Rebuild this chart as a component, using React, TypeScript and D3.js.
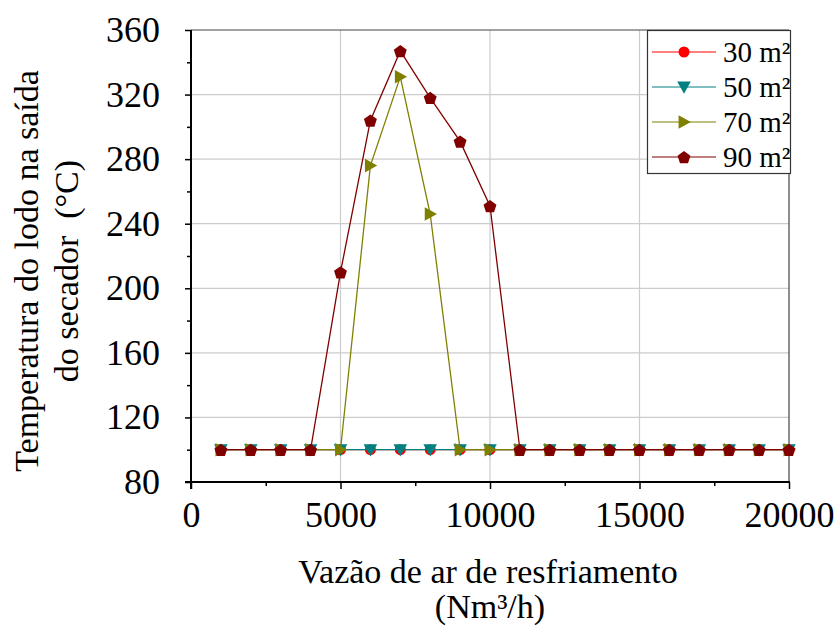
import React, { useEffect, useRef } from "react";
import * as d3 from "d3";

const WIDTH = 839;
const HEIGHT = 627;
const MARGIN = { top: 30, right: 50, bottom: 145, left: 191 };

// air flow (Nm³/h)
const flows = [1000, 2000, 3000, 4000, 5000, 6000, 7000, 8000, 9000, 10000,
  11000, 12000, 13000, 14000, 15000, 16000, 17000, 18000, 19000, 20000];

// sludge temperature at dryer outlet (°C)
const temp30 = [100, 100, 100, 100, 100, 100, 100, 100, 100, 100, 100, 100, 100, 100, 100, 100, 100, 100, 100, 100];
const temp50 = [100, 100, 100, 100, 100, 100, 100, 100, 100, 100, 100, 100, 100, 100, 100, 100, 100, 100, 100, 100];
const temp70 = [100, 100, 100, 100, 100, 276, 331, 246, 100, 100, 100, 100, 100, 100, 100, 100, 100, 100, 100, 100];
const temp90 = [100, 100, 100, 100, 210, 304, 347, 318, 291, 251, 100, 100, 100, 100, 100, 100, 100, 100, 100, 100];

const seriesNames = ["30 m²", "50 m²", "70 m²", "90 m²"];
const xTicks = [0, 5000, 10000, 15000, 20000];
const yTicks = [80, 120, 160, 200, 240, 280, 320, 360];

const series = [
  { name: seriesNames[0], values: temp30, color: "#ff0000", line: "#ff0000", marker: "circle" },
  { name: seriesNames[1], values: temp50, color: "#008080", line: "#008080", marker: "triDown" },
  { name: seriesNames[2], values: temp70, color: "#808000", line: "#808000", marker: "triRight" },
  { name: seriesNames[3], values: temp90, color: "#800000", line: "#800000", marker: "pentagon" },
];

const FONT = "'Liberation Serif', 'Times New Roman', serif";

const markerPath = (kind: string, s: number) => {
  if (kind === "triDown") return `M${-s},${-s * 0.8}L${s},${-s * 0.8}L0,${s}Z`;
  if (kind === "triRight") return `M${-s * 0.8},${-s}L${s},0L${-s * 0.8},${s}Z`;
  if (kind === "pentagon") {
    const pts = d3.range(5).map((i) => {
      const a = -Math.PI / 2 + (i * 2 * Math.PI) / 5;
      return [Math.cos(a) * s, Math.sin(a) * s + 0.8];
    });
    return "M" + pts.map((p) => p.join(",")).join("L") + "Z";
  }
  return "";
};

const Marker = ({ kind, x, y, color }: { kind: string; x: number; y: number; color: string }) =>
  kind === "circle" ? (
    <circle cx={x} cy={y} r={5.5} fill={color} />
  ) : (
    <path d={markerPath(kind, 6.8)} transform={`translate(${x},${y})`} fill={color} />
  );

export default function App() {
  const axesRef = useRef<SVGGElement>(null);
  const x0 = MARGIN.left;
  const x1 = WIDTH - MARGIN.right;
  const y0 = HEIGHT - MARGIN.bottom;
  const y1 = MARGIN.top;

  const xScale = d3.scaleLinear().domain([0, 20000]).range([x0, x1]);
  const yScale = d3.scaleLinear().domain([80, 360]).range([y0, y1]);

  useEffect(() => {
    const g = d3.select(axesRef.current);
    g.selectAll("*").remove();

    // minor ticks
    g.append("g")
      .attr("transform", `translate(0,${y0})`)
      .call(d3.axisBottom(xScale).tickValues([2500, 7500, 12500, 17500]).tickSize(4).tickFormat(() => ""))
      .call((s) => s.select(".domain").remove());
    g.append("g")
      .attr("transform", `translate(${x0},0)`)
      .call(d3.axisLeft(yScale).tickValues(d3.range(100, 360, 40)).tickSize(4).tickFormat(() => ""))
      .call((s) => s.select(".domain").remove());

    // major ticks + labels
    const xa = g.append("g")
      .attr("transform", `translate(0,${y0})`)
      .call(d3.axisBottom(xScale).tickValues(xTicks).tickSize(7).tickPadding(12).tickFormat(d3.format("d")));
    const ya = g.append("g")
      .attr("transform", `translate(${x0},0)`)
      .call(d3.axisLeft(yScale).tickValues(yTicks).tickSize(6).tickPadding(25));

    [xa, ya].forEach((a) => {
      a.select(".domain").remove();
      a.selectAll("text").attr("font-family", FONT).attr("font-size", 36).attr("fill", "#000");
    });
    g.selectAll("line").attr("stroke", "#000").attr("stroke-width", 1.5);

    g.append("line")
      .attr("x1", x0 - 6).attr("x2", x1 + 1).attr("y1", y0).attr("y2", y0)
      .attr("stroke", "#000").attr("stroke-width", 2);
    g.append("line")
      .attr("x1", x0).attr("x2", x0).attr("y1", y1).attr("y2", y0 + 7)
      .attr("stroke", "#000").attr("stroke-width", 2);
  }, []);

  const line = d3
    .line<number>()
    .x((_, i) => xScale(flows[i]))
    .y((d) => yScale(d));

  return (
    <svg
      width={WIDTH}
      height={HEIGHT}
      style={{ position: "absolute", left: 0, top: 0, background: "#fff" }}
      fontFamily={FONT}
    >
      {/* grid */}
      {[5000, 10000, 15000].map((v) => (
        <line key={"gx" + v} x1={xScale(v)} x2={xScale(v)} y1={y1} y2={y0} stroke="#cccccc" strokeWidth={1.2} />
      ))}
      {yTicks.slice(1, -1).map((v) => (
        <line key={"gy" + v} x1={x0} x2={x1} y1={yScale(v)} y2={yScale(v)} stroke="#cccccc" strokeWidth={1.2} />
      ))}
      {/* frame top/right */}
      <line x1={x0} x2={x1} y1={y1} y2={y1} stroke="#444" strokeWidth={1.2} />
      <line x1={x1} x2={x1} y1={y1} y2={y0} stroke="#444" strokeWidth={1.2} />

      {/* series */}
      {series.map((s) => (
        <g key={s.name}>
          <path d={line(s.values) || ""} fill="none" stroke={s.line} strokeWidth={1.3} />
          {s.values.map((v, i) => (
            <Marker key={i} kind={s.marker} x={xScale(flows[i])} y={yScale(v)} color={s.color} />
          ))}
        </g>
      ))}

      <g ref={axesRef} />

      {/* legend */}
      <g>
        <rect x={647.5} y={30.5} width={143} height={143} fill="#fff" stroke="#333" strokeWidth={1.2} />
        {series.map((s, i) => {
          const ly = 52 + i * 35;
          return (
            <g key={"lg" + s.name}>
              <line x1={652} x2={716} y1={ly} y2={ly} stroke={s.line} strokeWidth={1.2} />
              <Marker kind={s.marker} x={684} y={ly} color={s.color} />
              <text x={723} y={ly + 10} fontSize={29} fill="#000">
                {s.name}
              </text>
            </g>
          );
        })}
      </g>

      {/* axis titles */}
      <text x={488} y={583} fontSize={34} textAnchor="middle" fill="#000">
        Vazão de ar de resfriamento
      </text>
      <text x={490} y={618} fontSize={34} textAnchor="middle" fill="#000">
        (Nm³/h)
      </text>
      <g transform="translate(38,271) rotate(-90)">
        <text x={0} y={0} fontSize={34} textAnchor="middle" fill="#000">
          Temperatura do lodo na saída
        </text>
        <text x={0} y={40} fontSize={34} textAnchor="middle" fill="#000" style={{ whiteSpace: "pre" }}>
          {"do secador  (°C)"}
        </text>
      </g>
    </svg>
  );
}
